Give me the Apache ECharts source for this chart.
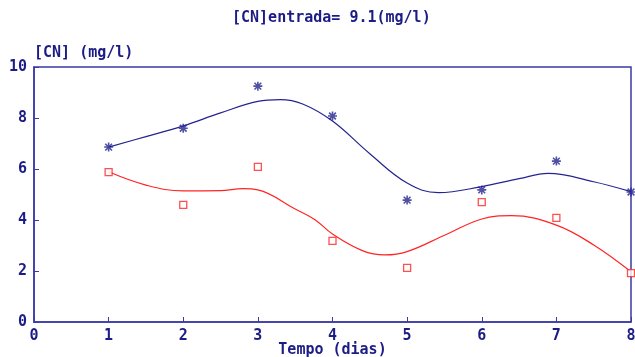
<!DOCTYPE html>
<html>
<head>
<meta charset="utf-8">
<script src="https://cdn.jsdelivr.net/npm/echarts@6/dist/echarts.min.js"></script>
<style>
  html, body { margin: 0; padding: 0; background: #fff; }
  #chart { width: 635px; height: 357px; }
</style>
</head>
<body>
<div id="chart"></div>
<script>
// Measured cyanide concentration per day
const days = [1, 2, 3, 4, 5, 6, 7, 8];
const cnSeriesA = [6.86, 7.6, 9.25, 8.08, 4.78, 5.18, 6.31, 5.1];
const cnSeriesB = [5.88, 4.59, 6.08, 3.18, 2.12, 4.7, 4.08, 1.92];

// Fitted trend curves (x, y)
const fitA = [
  [1, 6.86], [1.5, 7.27], [2, 7.69], [2.5, 8.2], [3, 8.65], [3.3, 8.72],
  [3.6, 8.55], [4, 7.88], [4.5, 6.6], [5, 5.45], [5.42, 5.07], [6, 5.31],
  [6.5, 5.62], [6.89, 5.83], [7.5, 5.5], [8, 5.11]
];
const fitB = [
  [1, 5.89], [1.5, 5.37], [2, 5.14], [2.5, 5.15], [2.8, 5.23], [3, 5.18],
  [3.5, 4.43], [3.77, 4.0], [4, 3.45], [4.4, 2.8], [4.7, 2.63], [5, 2.76],
  [5.5, 3.4], [6, 4.04], [6.4, 4.17], [7, 3.8], [7.5, 3.02], [8, 1.97]
];

const xTicks = [0, 1, 2, 3, 4, 5, 6, 7, 8];
const yTicks = [0, 2, 4, 6, 8, 10];

const textColor = '#1c1c86';
const axisColor = '#3a3aa6';
const blue = '#24248f';
const red = '#ff2424';
const font = '"DejaVu Sans Mono", "Liberation Mono", monospace';
const fontSize = 15;

const star = 'path://M0,-4L0,4M-4,0L4,0M-3,-3L3,3M-3,3L3,-3';

const chart = echarts.init(document.getElementById('chart'), null, { renderer: 'canvas' });
chart.setOption({
  animation: false,
  backgroundColor: '#fff',
  title: {
    text: '[CN]entrada= 9.1(mg/l)',
    left: 232,
    top: 11,
    padding: 0,
    textStyle: { color: textColor, fontFamily: font, fontWeight: 'bold', fontSize: fontSize }
  },
  grid: {
    left: 34, right: 4, top: 67, bottom: 35,
    outerBoundsMode: 'none',
    show: true, borderColor: axisColor, borderWidth: 1.5
  },
  xAxis: {
    type: 'value',
    min: 0, max: 8, interval: 1,
    name: 'Tempo (dias)',
    nameLocation: 'middle',
    nameGap: 21,
    nameMoveOverlap: false,
    nameTextStyle: { color: textColor, fontFamily: font, fontWeight: 'bold', fontSize: fontSize },
    axisLine: { show: true, lineStyle: { color: axisColor, width: 1.5 } },
    axisTick: { show: true, inside: true, length: 5, lineStyle: { color: axisColor } },
    axisLabel: {
      color: textColor, fontFamily: font, fontWeight: 'bold', fontSize: fontSize, margin: 7,
      formatter: v => xTicks.includes(v) ? String(v) : ''
    },
    splitLine: { show: false }
  },
  yAxis: {
    type: 'value',
    min: 0, max: 10, interval: 2,
    name: '[CN] (mg/l)',
    nameLocation: 'end',
    nameGap: 6,
    nameTextStyle: { color: textColor, fontFamily: font, fontWeight: 'bold', fontSize: fontSize, align: 'left' },
    axisLine: { show: true, lineStyle: { color: axisColor, width: 1.5 } },
    axisTick: { show: true, inside: true, length: 5, lineStyle: { color: axisColor } },
    axisLabel: {
      color: textColor, fontFamily: font, fontWeight: 'bold', fontSize: fontSize, margin: 7,
      formatter: v => yTicks.includes(v) ? String(v) : ''
    },
    splitLine: { show: false }
  },
  series: [
    {
      type: 'line', data: fitA, smooth: 0.4, showSymbol: false,
      lineStyle: { color: blue, width: 1.2 }, z: 2
    },
    {
      type: 'line', data: fitB, smooth: 0.4, showSymbol: false,
      lineStyle: { color: red, width: 1.2 }, z: 2
    },
    {
      type: 'scatter', data: days.map((d, i) => [d, cnSeriesA[i]]),
      symbol: star, symbolSize: 9,
      itemStyle: { color: 'none', borderColor: blue, borderWidth: 1.6 }, z: 3
    },
    {
      type: 'scatter', data: days.map((d, i) => [d, cnSeriesB[i]]),
      symbol: 'rect', symbolSize: 7,
      itemStyle: { color: '#fff', borderColor: red, borderWidth: 1.3 }, z: 3
    }
  ]
});
</script>
</body>
</html>
